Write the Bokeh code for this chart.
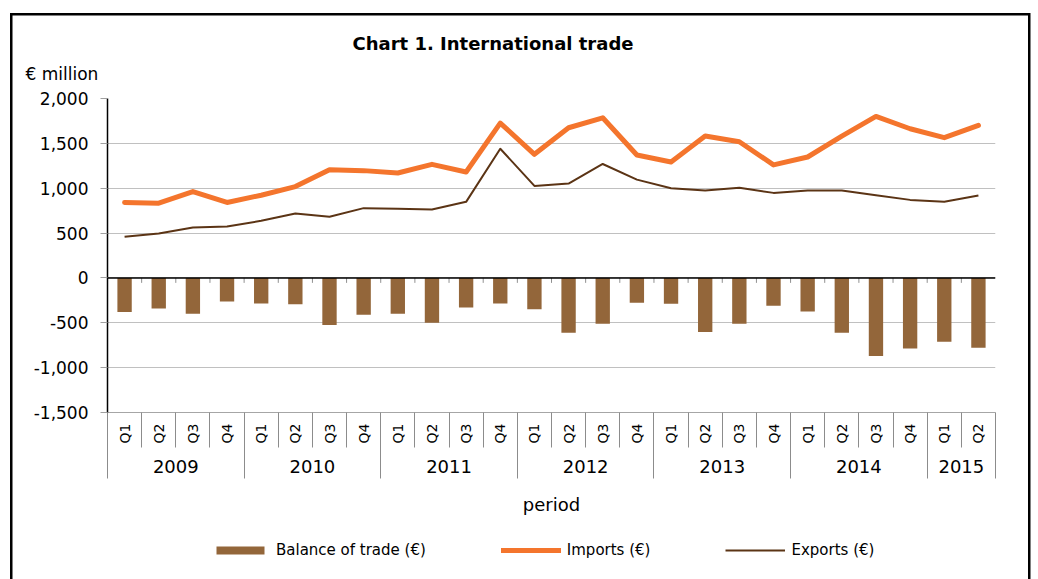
import math
from bokeh.plotting import figure
from bokeh.layouts import column
from bokeh.models import (Range1d, LinearAxis, FixedTicker, NumeralTickFormatter,
                          Span, Legend, LegendItem, Title)
from bokeh.embed import file_html
from bokeh.resources import INLINE

# ---- data (EUR million) ----
years = ["2009"] * 4 + ["2010"] * 4 + ["2011"] * 4 + ["2012"] * 4 + ["2013"] * 4 + ["2014"] * 4 + ["2015"] * 2
quarters = ["Q1", "Q2", "Q3", "Q4"] * 6 + ["Q1", "Q2"]
imports = [840, 833, 963, 841, 922, 1018, 1207, 1196, 1170, 1266, 1181, 1726, 1378,
           1674, 1785, 1370, 1293, 1581, 1518, 1260, 1348, 1581, 1800, 1663, 1563, 1700]
exports = [459, 496, 563, 574, 637, 718, 681, 778, 771, 763, 848, 1440, 1026,
           1052, 1270, 1096, 1000, 974, 1004, 948, 974, 974, 922, 870, 848, 918]
balance = [-381, -340, -400, -263, -285, -292, -525, -411, -400, -500, -329, -285, -348,
           -611, -511, -278, -289, -603, -511, -311, -374, -611, -870, -788, -710, -777]
y_ticks = [-1500, -1000, -500, 0, 500, 1000, 1500, 2000]
series_names = ["Balance of trade (€)", "Imports (€)", "Exports (€)"]

FONT = "DejaVu Sans"
BAR_C = "#93663A"
IMP_C = "#F4752D"
EXP_C = "#5B3415"
SEP_C = "#8C8C8C"

n = len(quarters)
xc = [i + 0.5 for i in range(n)]
q_bounds = [float(i) for i in range(n + 1)]

year_names = []
for y in years:
    if y not in year_names:
        year_names.append(y)
year_centers, year_bounds = [], [0.0]
for y in year_names:
    idx = [i for i, yy in enumerate(years) if yy == y]
    year_centers.append((idx[0] + idx[-1] + 1) / 2.0)
    year_bounds.append(float(idx[-1] + 1))

p = figure(width=1038, height=520, x_range=Range1d(0, n), y_range=Range1d(y_ticks[0], y_ticks[-1]),
           output_backend="svg", toolbar_location=None,
           x_axis_location=None, y_axis_location=None,
           min_border_left=107, min_border_right=43, min_border_top=98, min_border_bottom=108,
           title="Chart 1.  International trade")
p.outline_line_color = None
p.border_fill_color = None
p.background_fill_color = None

p.title.align = "left"
p.title.offset = 245
p.title.standoff = -12
p.title.text_font = FONT
p.title.text_font_size = "18px"
p.title.text_font_style = "bold"
p.title.text_color = "black"

unit = Title(text="€ million", align="left", offset=-82, standoff=29, text_font=FONT,
             text_font_size="17px", text_font_style="normal", text_color="black")
p.add_layout(unit, "above")

p.xgrid.grid_line_color = None
p.ygrid.ticker = FixedTicker(ticks=y_ticks)
p.ygrid.grid_line_color = "#C0C0C0"
p.ygrid.grid_line_width = 1

# y axis
ya = LinearAxis(ticker=FixedTicker(ticks=y_ticks), formatter=NumeralTickFormatter(format="0,0"),
                bounds=(y_ticks[0], y_ticks[-1]))
ya.axis_line_color = "black"
ya.axis_line_width = 1.5
ya.major_tick_out = 7
ya.major_tick_in = 0
ya.major_tick_line_color = "#A0A0A0"
ya.minor_tick_out = 0
ya.minor_tick_in = 0
ya.major_label_standoff = 12
ya.major_label_text_font = FONT
ya.major_label_text_font_size = "17px"
ya.major_label_text_color = "black"
p.add_layout(ya, "left")

# quarter axis (separators drawn as minor ticks at the category edges)
qa = LinearAxis(ticker=FixedTicker(ticks=xc, minor_ticks=q_bounds),
                major_label_overrides={x: q for x, q in zip(xc, quarters)})
qa.axis_line_color = "#A6A6A6"
qa.major_tick_out = 0
qa.major_tick_in = 0
qa.minor_tick_out = 35
qa.minor_tick_in = 0
qa.minor_tick_line_color = SEP_C
qa.major_label_orientation = math.pi / 2
qa.major_label_standoff = -24
qa.major_label_text_font = FONT
qa.major_label_text_font_size = "14px"
qa.major_label_text_color = "black"
p.add_layout(qa, "below")

# year axis
ya2 = LinearAxis(ticker=FixedTicker(ticks=year_centers, minor_ticks=year_bounds),
                 major_label_overrides={c: y for c, y in zip(year_centers, year_names)},
                 axis_label="period")
ya2.axis_line_color = None
ya2.major_tick_out = 0
ya2.major_tick_in = 0
ya2.minor_tick_out = 32
ya2.minor_tick_in = 0
ya2.minor_tick_line_color = SEP_C
ya2.major_label_standoff = -19
ya2.major_label_text_font = FONT
ya2.major_label_text_font_size = "18px"
ya2.major_label_text_color = "black"
ya2.axis_label_standoff = 18
ya2.axis_label_text_font = FONT
ya2.axis_label_text_font_size = "18px"
ya2.axis_label_text_font_style = "normal"
ya2.axis_label_text_color = "black"
p.add_layout(ya2, "below")

# bars and lines
bars = p.vbar(x=xc, top=balance, bottom=0, width=0.42, fill_color=BAR_C, line_color=None)
p.add_layout(Span(location=0, dimension="width", line_color="black", line_width=1.5))
p.segment(x0=q_bounds[1:-1], y0=0, x1=q_bounds[1:-1], y1=-55, line_color="#909090", line_width=1)
imp = p.line(xc, imports, line_color=IMP_C, line_width=5, line_join="round", line_cap="round")
exp = p.line(xc, exports, line_color=EXP_C, line_width=2, line_join="round")

# legend strip: its own small figure (so it is not clipped by the chart frame);
# the same series are attached there, outside that strip's visible range
lg = figure(width=1038, height=59, x_range=Range1d(0, n), y_range=Range1d(3000, 4000),
            output_backend="svg", toolbar_location=None, title=None,
            x_axis_location=None, y_axis_location=None, min_border=0)
lg.outline_line_color = None
lg.border_fill_color = None
lg.background_fill_color = None
lg.xgrid.visible = False
lg.ygrid.visible = False
lb = lg.vbar(x=xc, top=balance, bottom=0, width=0.42, fill_color=BAR_C, line_color=None)
li = lg.line(xc, imports, line_color=IMP_C, line_width=5, line_cap="round")
le = lg.line(xc, exports, line_color=EXP_C, line_width=2)

legend = Legend(items=[LegendItem(label=series_names[0], renderers=[lb]),
                       LegendItem(label=series_names[1], renderers=[li]),
                       LegendItem(label=series_names[2], renderers=[le])],
                orientation="horizontal", location=(103, 20),
                border_line_color=None, background_fill_alpha=0,
                margin=0, padding=0, spacing=75, glyph_width=60, glyph_height=10,
                label_standoff=6, label_height=18, label_text_font=FONT,
                label_text_font_size="15px", label_text_color="black")
lg.add_layout(legend, "center")

layout = column(p, lg, spacing=0)
layout.styles = {
    "background-image": "linear-gradient(#000,#000), linear-gradient(#000,#000), linear-gradient(#000,#000)",
    "background-position": "10px 13px, 10px 13px, 1028px 13px",
    "background-size": "2.5px 700px, 1020px 2.5px, 2.5px 700px",
    "background-repeat": "no-repeat",
}

open("out.html", "w").write(file_html(layout, INLINE))
